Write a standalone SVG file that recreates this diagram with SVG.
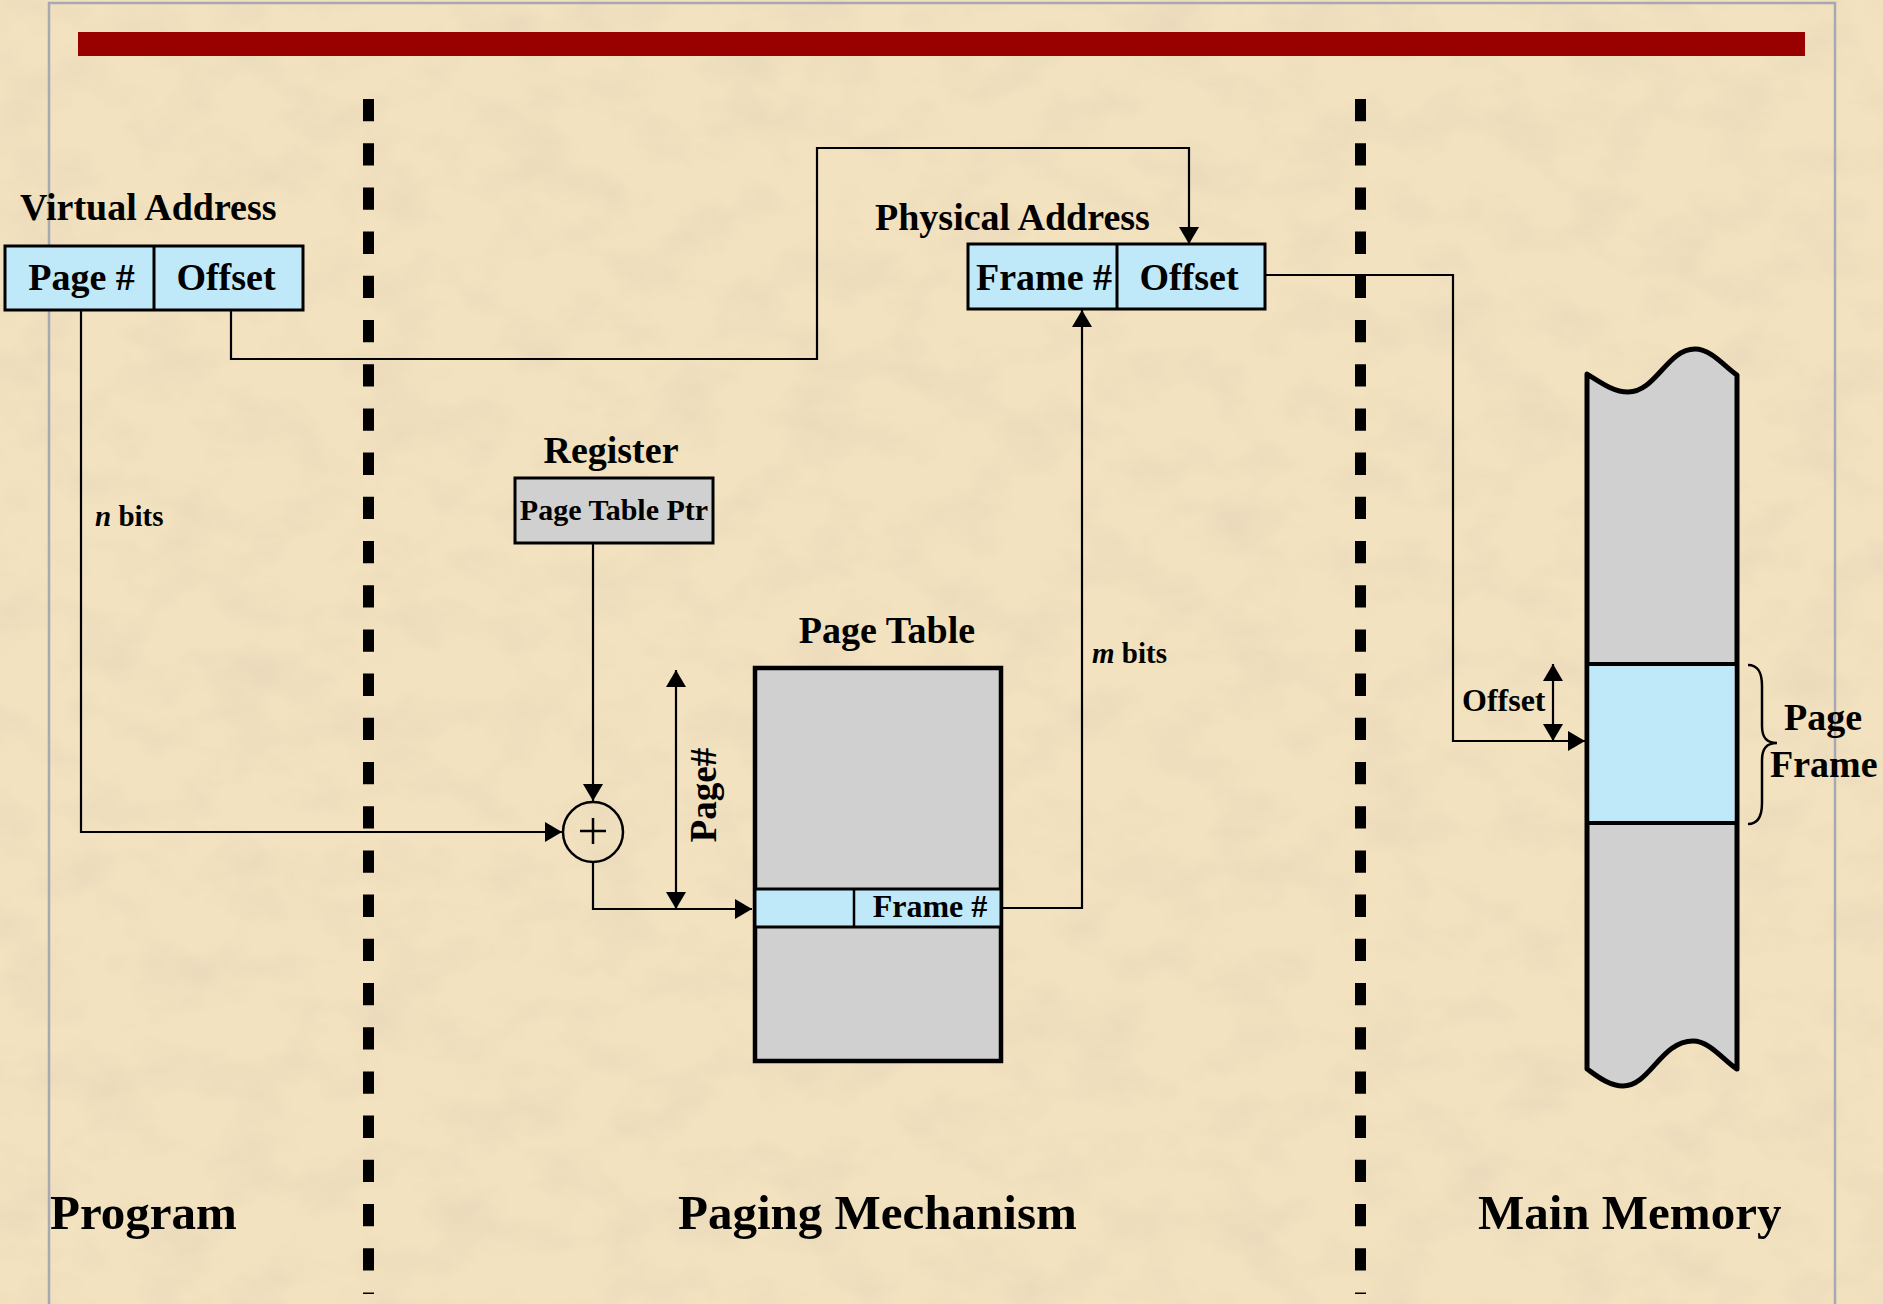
<svg xmlns="http://www.w3.org/2000/svg" width="1883" height="1304" viewBox="0 0 1883 1304">
<defs>
<filter id="paper" x="0" y="0" width="100%" height="100%" filterUnits="userSpaceOnUse">
<feTurbulence type="fractalNoise" baseFrequency="0.014 0.02" numOctaves="4" seed="7" result="n"/>
<feColorMatrix in="n" type="matrix" values="0 0 0 0 0.82  0 0 0 0 0.70  0 0 0 0 0.50  2.0 0 0 0 -0.85"/>
</filter>
<marker id="ah" markerUnits="userSpaceOnUse" markerWidth="17" markerHeight="20" refX="17" refY="10" orient="auto-start-reverse" viewBox="0 0 17 20">
<path d="M0,0 L17,10 L0,20 Z" fill="#000"/>
</marker>
<style>
text{font-family:"Liberation Serif","Times New Roman",serif;font-weight:bold;fill:#000}
.lbl{font-size:38px}
.cell{font-size:38px;text-anchor:middle}
.big{font-size:49px}
.small{font-size:29px}
.conn{fill:none;stroke:#000;stroke-width:2.2}
.blue{fill:#bfe8f8;stroke:#000;stroke-width:3}
.gray{fill:#d0d0d0;stroke:#000}
.dash{stroke:#000;stroke-width:11;stroke-dasharray:22.3 21.9;fill:none}
</style>
</defs>
<rect x="0" y="0" width="1883" height="1304" fill="#f2e2bf"/>
<rect x="0" y="0" width="1883" height="1304" filter="url(#paper)"/>
<rect x="49" y="3" width="1786" height="1320" fill="none" stroke="#a7a9b2" stroke-width="2.5"/>
<rect x="78" y="32" width="1727" height="24" fill="#990000"/>

<g id="dividers">
<line class="dash" x1="368.5" y1="99" x2="368.5" y2="1294"/>
<line class="dash" x1="1360.5" y1="99" x2="1360.5" y2="1294"/>
</g>

<g id="virtual-address">
<text class="lbl" x="20" y="220">Virtual Address</text>
<rect class="blue" x="5" y="246" width="298" height="64"/>
<line x1="154" y1="246" x2="154" y2="310" stroke="#000" stroke-width="3"/>
<text class="cell" x="81.5" y="290">Page #</text>
<text class="cell" x="226" y="290">Offset</text>
</g>

<g id="physical-address">
<text class="lbl" x="875" y="230">Physical Address</text>
<rect class="blue" x="968" y="244" width="297" height="65"/>
<line x1="1117" y1="244" x2="1117" y2="309" stroke="#000" stroke-width="3"/>
<text class="cell" x="1044" y="290">Frame #</text>
<text class="cell" x="1189" y="290">Offset</text>
</g>

<g id="register">
<text class="lbl" x="611" y="463" text-anchor="middle">Register</text>
<rect class="gray" x="515" y="478" width="198" height="65" stroke-width="3"/>
<text x="614" y="520" text-anchor="middle" font-size="30">Page Table Ptr</text>
</g>

<g id="adder">
<circle cx="593" cy="832" r="30" fill="none" stroke="#000" stroke-width="2.5"/>
<line x1="580" y1="831" x2="606" y2="831" stroke="#000" stroke-width="2.5"/>
<line x1="593" y1="818" x2="593" y2="844" stroke="#000" stroke-width="2.5"/>
</g>

<g id="page-table">
<text class="lbl" x="887" y="643" text-anchor="middle">Page Table</text>
<rect class="gray" x="755" y="668" width="246" height="393" stroke-width="4.5"/>
<rect class="blue" x="755" y="889" width="246" height="38" stroke-width="2.5"/>
<line x1="854" y1="889" x2="854" y2="927" stroke="#000" stroke-width="2.5"/>
<text x="930" y="917" text-anchor="middle" font-size="32">Frame #</text>
</g>

<g id="main-memory">
<path d="M1587,374 C1603,384 1614,392 1628,392 C1656,392 1667,349 1695,349 C1711,349 1724,366 1737,375 V1069 C1724,1061 1710,1041 1693,1041 C1661,1041 1650,1086 1623,1086 C1609,1086 1597,1076 1587,1069 Z" fill="#d0d0d0" stroke="#000" stroke-width="5" stroke-linejoin="round"/>
<rect x="1589.5" y="664" width="145" height="159" fill="#bfe8f8"/>
<line x1="1587" y1="664" x2="1737" y2="664" stroke="#000" stroke-width="4"/>
<line x1="1587" y1="823" x2="1737" y2="823" stroke="#000" stroke-width="4"/>
<path d="M1748,665 C1758,665 1762,672 1762,686 V726 C1762,737 1766,743 1777,743 C1766,743 1762,749 1762,760 V803 C1762,816 1758,824 1748,824" fill="none" stroke="#000" stroke-width="2.5"/>
<text class="lbl" x="1784" y="730">Page</text>
<text class="lbl" x="1770" y="777">Frame</text>
<text x="1462" y="711" font-size="32">Offset</text>
</g>

<g id="section-labels">
<text class="big" x="50" y="1229">Program</text>
<text class="big" x="678" y="1229">Paging Mechanism</text>
<text class="big" x="1478" y="1229">Main Memory</text>
</g>

<g id="connectors">
<path class="conn" d="M231,310 V359 H817 V148 H1189 V244" marker-end="url(#ah)"/>
<path class="conn" d="M81,310 V832 H562" marker-end="url(#ah)"/>
<path class="conn" d="M593,543 V801" marker-end="url(#ah)"/>
<path class="conn" d="M593,862 V909 H752" marker-end="url(#ah)"/>
<path class="conn" d="M1001,908 H1082 V310" marker-end="url(#ah)"/>
<path class="conn" d="M1265,275 H1453 V741 H1585" marker-end="url(#ah)"/>
<path class="conn" d="M676,670 V909" marker-start="url(#ah)" marker-end="url(#ah)"/>
<path class="conn" d="M1553,664 V741" marker-start="url(#ah)" marker-end="url(#ah)"/>
<text class="small" x="95" y="526"><tspan font-style="italic">n</tspan> bits</text>
<text class="small" x="1092" y="663"><tspan font-style="italic">m</tspan> bits</text>
<text x="716" y="795" font-size="37" text-anchor="middle" transform="rotate(-90 716 795)">Page#</text>
</g>
</svg>
